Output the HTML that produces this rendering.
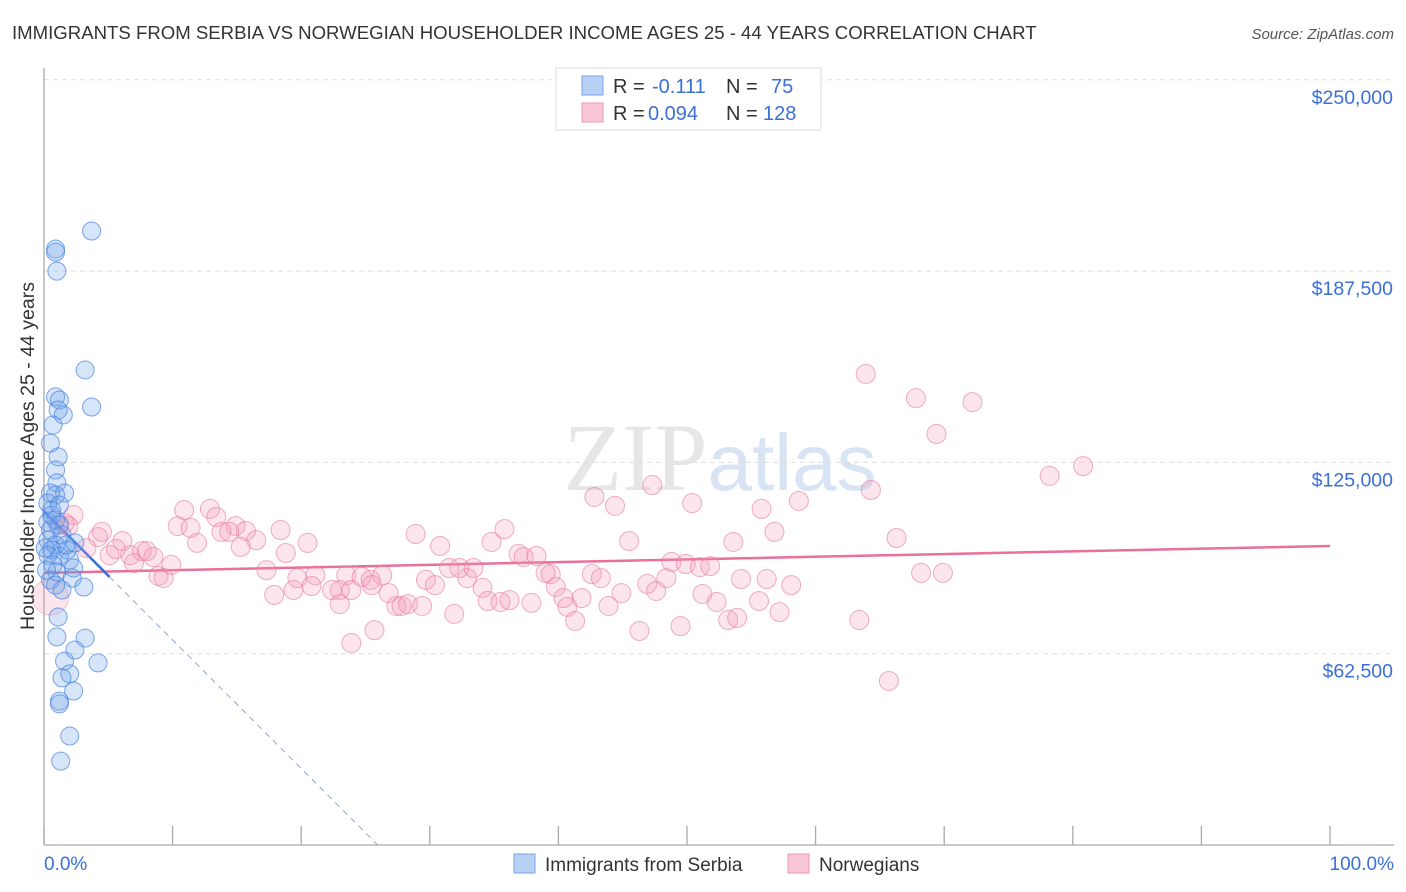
<!DOCTYPE html>
<html><head><meta charset="utf-8"><style>
body{margin:0;background:#fff;font-family:"Liberation Sans",sans-serif;overflow:hidden;}
svg{display:block}
</style></head><body>
<svg id="chart" width="1406" height="892" viewBox="0 0 1406 892" xmlns="http://www.w3.org/2000/svg" font-family="Liberation Sans, sans-serif">
<text x="12" y="39" font-size="18.6" fill="#333">IMMIGRANTS FROM SERBIA VS NORWEGIAN HOUSEHOLDER INCOME AGES 25 - 44 YEARS CORRELATION CHART</text>
<text x="1394" y="39" font-size="15" fill="#555" font-style="italic" text-anchor="end">Source: ZipAtlas.com</text>
<text x="720" y="490" font-size="96" fill="#e6e6e6" text-anchor="middle" font-family="Liberation Serif, serif">ZIP<tspan fill="#d8e4f4" font-family="Liberation Sans, sans-serif" font-size="80">atlas</tspan></text>
<g id="grid"></g>
<g id="axes"></g>
<g id="trend"></g>
<g id="pts"></g>
<text transform="translate(34,456) rotate(-90)" font-size="19.5" fill="#333" text-anchor="middle">Householder Income Ages 25 - 44 years</text>
<text x="44" y="870" font-size="19" fill="#3a6fd8">0.0%</text>
<text x="1394" y="870" font-size="19" fill="#3a6fd8" text-anchor="end">100.0%</text>
<g>
<rect x="556" y="68" width="265" height="62" fill="#fff" stroke="#ddd"/>
<rect x="582" y="76" width="21" height="19" fill="#b8d0f4" stroke="#7aa5e8"/>
<rect x="582" y="103" width="21" height="19" fill="#f9c6d6" stroke="#ec9ab5"/>
<text x="613" y="93" font-size="20" fill="#333">R = <tspan fill="#3a6fd8" x="652">-0.111</tspan><tspan x="726">N =</tspan><tspan fill="#3a6fd8" x="771">75</tspan></text>
<text x="613" y="120" font-size="20" fill="#333">R = <tspan fill="#3a6fd8" x="648">0.094</tspan><tspan x="726">N =</tspan><tspan fill="#3a6fd8" x="763">128</tspan></text>
</g>
<g>
<rect x="514" y="854" width="21" height="19" fill="#b8d0f4" stroke="#7aa5e8"/>
<text x="545" y="871" font-size="19" fill="#333">Immigrants from Serbia</text>
<rect x="788" y="854" width="21" height="19" fill="#f9c6d6" stroke="#ec9ab5"/>
<text x="819" y="871" font-size="19" fill="#333">Norwegians</text>
</g>
</svg>
<script>
const yTicks=[62500,125000,187500,250000];
const yTickLabels=["$62,500","$125,000","$187,500","$250,000"];
const xTicks=[0,10,20,30,40,50,60,70,80,90,100];
const serbiaX=[3.7,0.9,0.9,1.0,3.2,3.7,0.9,1.2,1.1,1.5,0.7,0.5,1.1,0.9,1.0,0.9,1.6,0.5,0.3,0.6,0.9,0.3,1.2,0.5,1.4,0.3,0.9,0.6,1.8,1.2,0.3,0.7,2.0,1.0,0.5,2.3,2.2,3.1,0.9,1.1,1.0,3.2,2.4,1.6,4.2,2.0,1.4,2.3,1.2,1.2,2.0,1.3,0.6,1.2,0.1,1.7,2.4,1.4,0.2];
const serbiaY=[200.6,194.7,193.7,187.5,155.2,143.1,146.4,145.4,142.1,140.5,137.2,131.3,126.8,122.5,118.3,114.3,115.0,115.0,111.7,109.4,106.2,105.5,104.6,102.9,101.3,99.6,98.0,96.4,96.4,94.4,94.7,91.5,93.1,89.2,86.6,90.5,87.2,84.3,84.9,74.5,68.0,67.6,63.7,60.1,59.5,55.9,54.6,50.3,47.0,46.1,35.6,27.4,107.8,111.1,97.0,98.0,98.7,83.3,89.8];
const norX=[63.9,67.8,72.2,69.4,80.8,78.2,64.3,47.3,42.8,44.4,50.4,58.7,55.8,56.8,66.3,53.6,45.5,35.8,34.8,28.9,30.8,10.9,12.9,13.4,14.9,10.4,11.4,13.8,15.7,18.4,16.5,11.9,14.4,20.5,15.3,18.8,17.3,17.9,19.4,19.7,21.1,20.8,23.0,22.4,23.5,24.7,23.9,23.0,25.4,26.3,25.5,23.9,25.7,26.8,27.4,27.8,28.3,29.4,29.7,30.4,31.9,31.5,32.3,32.9,33.4,34.1,34.5,35.5,36.2,36.9,37.3,38.3,37.9,39.0,39.4,39.8,40.4,40.7,41.3,41.8,42.6,43.3,43.9,44.9,46.3,46.9,47.6,48.4,48.8,49.5,49.9,51.0,51.2,51.8,52.3,53.2,53.9,54.2,55.6,56.2,57.2,58.1,63.4,65.7,68.2,69.9,6.1,4.2,2.3,1.9,3.3,5.1,5.6,6.7,7.0,7.6,8.0,8.5,8.9,9.3,9.9,4.5,1.1,1.6];
const norY=[153.9,146.0,144.7,134.3,123.8,120.6,116.0,117.6,113.7,110.8,111.7,112.4,109.8,102.3,100.3,99.0,99.3,103.2,99.0,101.6,97.7,109.4,109.8,107.2,104.2,104.2,103.6,102.3,102.6,102.9,99.6,98.7,102.3,98.7,97.4,95.4,89.8,81.7,83.3,87.2,88.1,84.6,83.3,83.3,88.1,87.6,83.3,78.7,86.6,88.1,84.9,66.0,70.2,82.3,78.1,78.1,78.7,78.1,86.6,84.9,75.5,90.5,90.5,87.2,90.5,84.0,79.7,79.4,80.0,95.1,94.1,94.4,79.1,88.9,88.5,84.3,80.7,77.8,73.2,80.7,88.5,87.2,78.1,82.3,69.9,85.3,83.0,87.2,92.5,71.5,91.8,90.8,82.0,91.1,79.4,73.5,74.2,86.9,79.7,86.9,76.1,84.9,73.5,53.6,88.9,88.9,99.3,100.6,107.8,104.2,97.0,94.7,96.7,94.7,92.1,96.0,96.0,94.1,87.9,87.2,91.5,102.3,104.6,105.2];
const serbiaTrend=[109.0,-4.2];   // value at 0% and slope (k per %)
const norTrend=[88.9,0.088];
const X=p=>44+p*12.86, Y=k=>845-k*191.3/62.5;
const NS="http://www.w3.org/2000/svg";
function mk(tag,attrs,parent){const e=document.createElementNS(NS,tag);for(const k in attrs)e.setAttribute(k,attrs[k]);parent.appendChild(e);return e;}
const grid=document.getElementById('grid'),axes=document.getElementById('axes'),trend=document.getElementById('trend'),pts=document.getElementById('pts');
yTicks.forEach((v,i)=>{
  const l=mk('line',{x1:44,x2:1394,y1:Y(v/1000),y2:Y(v/1000),stroke:'#ddd','stroke-dasharray':'5,4'},grid);
  
  
  const t=mk('text',{x:1393,y:Y(v/1000)+24,'font-size':19.5,fill:'#3a6fd8','text-anchor':'end'},grid);
  t.textContent=yTickLabels[i];
  
  
});
const ya=mk('line',{x1:44,x2:44,y1:68,y2:845,stroke:'#aaa','stroke-width':1.3},axes);


const xa=mk('line',{x1:44,x2:1394,y1:845,y2:845,stroke:'#aaa','stroke-width':1.3},axes);


xTicks.forEach(p=>{
  const t=mk('line',{x1:X(p),x2:X(p),y1:826,y2:845,stroke:'#aaa','stroke-width':1.3},axes);
  
  
});
const nt=mk('line',{x1:X(0),x2:X(100),y1:Y(norTrend[0]),y2:Y(norTrend[0]+norTrend[1]*100),stroke:'#e8709a','stroke-width':2.5},trend);


const sEnd=5.1;
const st=mk('line',{x1:X(0),x2:X(sEnd),y1:Y(serbiaTrend[0]),y2:Y(serbiaTrend[0]+serbiaTrend[1]*sEnd),stroke:'#3a6fd8','stroke-width':2.5},trend);


const pz=(0-serbiaTrend[0])/serbiaTrend[1];
const sd=mk('line',{x1:X(sEnd),x2:X(pz),y1:Y(serbiaTrend[0]+serbiaTrend[1]*sEnd),y2:Y(0),stroke:'#8aa8e0','stroke-width':1,'stroke-dasharray':'6,5'},trend);


norX.forEach((p,i)=>{
  const c=mk('circle',{cx:X(p),cy:Y(norY[i]),r:9.5,fill:'rgba(244,150,180,0.25)',stroke:'rgba(232,120,160,0.6)','stroke-width':1},pts);
  
  
});
const big=mk('circle',{cx:X(0.5),cy:Y(81),r:18,fill:'rgba(244,150,180,0.25)',stroke:'rgba(232,120,160,0.4)'},pts);


serbiaX.forEach((p,i)=>{
  const c=mk('circle',{cx:X(p),cy:Y(serbiaY[i]),r:9,fill:'rgba(110,160,235,0.28)',stroke:'rgba(70,130,225,0.7)','stroke-width':1},pts);
  
  
});
</script>
</body></html>
